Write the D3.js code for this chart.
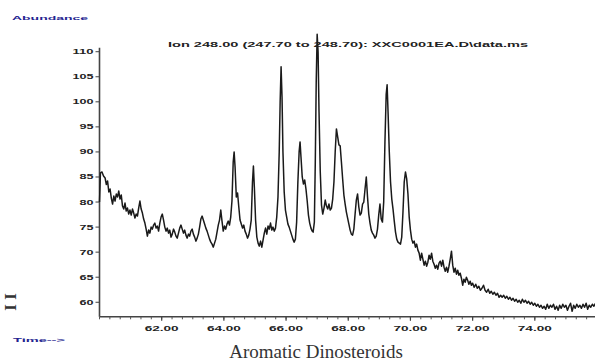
<!DOCTYPE html>
<html>
<head>
<meta charset="utf-8">
<script src="https://cdn.jsdelivr.net/npm/d3@7"></script>
<style>
  html, body { margin: 0; padding: 0; background: #fff; }
  svg { display: block; }
</style>
</head>
<body>
<svg id="chart" width="595" height="364"></svg>
<script>
// Ion chromatogram, m/z 248 — retention time (min) vs abundance
const trace = [
  [60.00,80.0],[60.03,85.8],[60.08,86.0],[60.13,85.2],[60.18,84.8],[60.22,83.5],[60.26,84.2],[60.30,82.0],
  [60.34,82.6],[60.38,80.8],[60.42,79.6],[60.46,81.2],[60.50,80.2],[60.54,81.6],[60.58,81.0],[60.62,82.2],
  [60.66,80.6],[60.70,81.4],[60.74,79.2],[60.78,78.6],[60.82,79.8],[60.86,78.2],[60.90,78.8],[60.94,77.6],
  [60.98,78.4],[61.02,77.4],[61.06,78.6],[61.10,77.8],[61.14,76.8],[61.18,77.6],[61.22,77.2],[61.26,78.8],
  [61.30,80.2],[61.34,78.6],[61.38,77.8],[61.42,76.6],[61.46,75.8],[61.50,74.6],[61.54,73.2],[61.58,74.4],
  [61.62,73.8],[61.66,75.0],[61.70,74.6],[61.74,75.4],[61.78,75.8],[61.82,74.8],[61.86,75.2],[61.90,74.2],
  [61.94,75.8],[61.98,77.0],[62.02,77.6],[62.06,76.4],[62.10,75.0],[62.14,74.2],[62.18,74.8],[62.22,73.8],
  [62.26,74.4],[62.30,73.0],[62.34,73.6],[62.38,74.6],[62.42,74.0],[62.46,73.2],[62.50,72.8],[62.54,73.8],
  [62.58,74.8],[62.62,75.4],[62.66,74.6],[62.70,73.8],[62.74,74.4],[62.78,73.4],[62.82,72.8],[62.86,73.6],
  [62.90,73.2],[62.94,74.2],[62.98,74.6],[63.02,73.6],[63.06,73.0],[63.10,72.2],[63.14,72.8],[63.18,73.6],
  [63.22,75.0],[63.26,76.6],[63.30,77.2],[63.34,76.4],[63.38,75.6],[63.42,74.8],[63.46,74.2],[63.50,73.4],
  [63.54,72.6],[63.58,72.0],[63.62,71.6],[63.66,71.0],[63.70,71.8],[63.74,72.6],[63.78,74.0],[63.82,75.4],
  [63.86,76.4],[63.90,78.4],[63.94,76.2],[63.98,74.2],[64.02,75.2],[64.06,74.6],[64.10,75.6],[64.14,76.2],
  [64.18,75.4],[64.22,77.0],[64.26,80.2],[64.30,88.0],[64.33,90.0],[64.36,87.0],[64.40,81.0],[64.44,81.8],
  [64.48,79.0],[64.52,76.4],[64.56,75.6],[64.60,74.8],[64.64,75.4],[64.68,74.2],[64.72,73.6],[64.76,72.8],
  [64.80,73.4],[64.84,74.6],[64.88,76.4],[64.92,84.0],[64.95,87.2],[64.98,83.0],[65.02,76.4],[65.06,73.0],
  [65.10,71.8],[65.14,71.2],[65.18,72.2],[65.22,71.0],[65.26,72.4],[65.30,73.8],[65.34,74.8],[65.38,73.6],
  [65.42,75.2],[65.46,74.6],[65.50,75.8],[65.54,74.4],[65.58,75.0],[65.62,74.2],[65.66,74.8],[65.70,77.0],
  [65.74,81.0],[65.78,90.0],[65.81,100.0],[65.84,107.0],[65.87,101.0],[65.90,90.0],[65.94,82.0],[65.98,78.4],
  [66.02,77.0],[66.06,75.6],[66.10,75.0],[66.14,74.2],[66.18,73.4],[66.22,72.6],[66.26,72.0],[66.30,72.6],
  [66.34,76.0],[66.38,84.0],[66.42,90.0],[66.45,92.0],[66.48,89.0],[66.52,85.0],[66.56,83.6],[66.60,84.4],
  [66.64,82.6],[66.68,80.2],[66.72,77.4],[66.76,75.8],[66.80,74.8],[66.84,74.2],[66.87,74.0],[66.91,76.0],
  [66.94,88.0],[66.97,104.0],[67.00,113.5],[67.03,110.0],[67.06,98.0],[67.10,86.0],[67.14,79.4],[67.18,77.6],
  [67.22,78.8],[67.26,80.4],[67.30,79.2],[67.34,78.6],[67.38,79.6],[67.42,78.4],[67.46,78.8],[67.50,80.6],
  [67.54,84.0],[67.58,90.0],[67.62,94.6],[67.66,93.0],[67.70,91.4],[67.74,91.2],[67.78,88.0],[67.82,84.6],
  [67.86,81.4],[67.90,79.6],[67.94,78.0],[67.98,76.8],[68.02,75.6],[68.06,74.4],[68.10,73.6],[68.14,73.4],
  [68.18,74.6],[68.22,77.6],[68.26,80.4],[68.30,81.6],[68.34,79.0],[68.38,77.4],[68.42,77.8],[68.46,79.6],
  [68.50,80.0],[68.54,82.6],[68.58,85.0],[68.62,81.0],[68.66,77.6],[68.70,75.8],[68.74,74.4],[68.78,73.8],
  [68.82,73.4],[68.86,72.8],[68.90,73.2],[68.94,74.6],[68.98,77.4],[69.02,79.6],[69.06,76.6],[69.10,76.0],
  [69.14,80.0],[69.18,92.0],[69.22,101.5],[69.25,103.4],[69.28,98.0],[69.32,90.0],[69.36,84.0],[69.40,80.6],
  [69.44,78.6],[69.48,76.2],[69.52,74.0],[69.56,72.6],[69.60,72.0],[69.64,71.8],[69.68,71.6],[69.72,73.0],
  [69.76,78.0],[69.80,84.0],[69.84,86.0],[69.88,84.6],[69.92,81.6],[69.96,77.0],[70.00,74.4],[70.04,72.6],
  [70.08,71.8],[70.12,72.2],[70.16,71.0],[70.20,71.6],[70.24,70.4],[70.28,69.8],[70.32,68.4],[70.36,69.8],
  [70.40,68.6],[70.44,67.4],[70.48,68.2],[70.52,67.2],[70.56,68.0],[70.60,69.4],[70.64,68.6],[70.68,69.8],
  [70.72,68.2],[70.76,67.6],[70.80,66.8],[70.84,67.4],[70.88,66.6],[70.92,67.8],[70.96,68.2],[71.00,67.2],
  [71.04,68.4],[71.08,67.0],[71.12,66.2],[71.16,67.0],[71.20,66.0],[71.24,67.2],[71.28,68.6],[71.32,70.2],
  [71.36,67.4],[71.40,66.0],[71.44,66.8],[71.48,65.6],[71.52,66.4],[71.56,65.4],[71.60,65.8],[71.64,64.8],
  [71.68,63.4],[71.72,64.6],[71.76,64.0],[71.80,65.0],[71.84,64.4],[71.88,63.6],[71.92,64.2],[71.96,63.4],
  [72.00,63.8],[72.05,63.0],[72.10,63.6],[72.15,62.8],[72.20,63.2],[72.25,62.4],[72.30,62.8],[72.35,63.4],
  [72.40,62.4],[72.45,62.0],[72.50,62.6],[72.55,61.8],[72.60,62.2],[72.65,61.6],[72.70,62.0],[72.75,61.4],
  [72.80,61.8],[72.85,61.0],[72.90,61.4],[72.95,61.0],[73.00,61.4],[73.05,60.8],[73.10,61.2],[73.15,60.6],
  [73.20,61.0],[73.25,60.4],[73.30,60.8],[73.35,60.2],[73.40,60.6],[73.45,60.0],[73.50,60.4],[73.55,59.8],
  [73.60,60.6],[73.65,60.0],[73.70,60.4],[73.75,59.8],[73.80,60.2],[73.85,59.6],[73.90,60.0],[73.95,59.4],
  [74.00,59.8],[74.05,59.2],[74.10,59.6],[74.15,59.0],[74.20,59.4],[74.25,58.8],[74.30,59.2],[74.35,58.6],
  [74.40,59.6],[74.45,58.8],[74.50,59.4],[74.55,59.0],[74.60,59.6],[74.65,58.6],[74.70,59.2],[74.75,58.4],
  [74.80,59.4],[74.85,58.8],[74.90,59.6],[74.95,59.0],[75.00,59.4],[75.05,58.4],[75.10,59.2],[75.15,59.8],
  [75.20,58.2],[75.25,59.4],[75.30,58.8],[75.35,59.6],[75.40,59.0],[75.45,59.4],[75.50,58.8],[75.55,59.6],
  [75.60,59.0],[75.65,59.8],[75.70,58.6],[75.75,59.4],[75.80,59.0],[75.85,59.6],[75.90,59.2],[75.95,59.8]
];

const xTickValues = [62, 64, 66, 68, 70, 72, 74];
const yTickValues = [60, 65, 70, 75, 80, 85, 90, 95, 100, 105, 110];
const titleText = "Ion 248.00 (247.70 to 248.70): XXC0001EA.D\\data.ms";
const yAxisTitle = "Abundance";
const xAxisTitle = "Time-->";
const caption = "Aromatic Dinosteroids";

const svg = d3.select("#chart");
svg.append("rect").attr("width", 595).attr("height", 364).attr("fill", "#fff");

const x = d3.scaleLinear().domain([60, 76]).range([99.5, 597]);
const y = d3.scaleLinear().domain([57.1, 110.8]).range([316.8, 47.7]);

const inkFont = "'Liberation Sans', Arial, sans-serif";

// x axis: major ticks every 2 min, minor ticks every 1/3 min
const minorTicks = d3.range(60, 76.01, 1 / 3);
const xAxisG = svg.append("g");
xAxisG.append("line")
  .attr("x1", x(60)).attr("x2", 595)
  .attr("y1", y(57.1)).attr("y2", y(57.1))
  .attr("stroke", "#444").attr("stroke-width", 1.6);
xAxisG.selectAll("line.minor").data(minorTicks).join("line")
  .attr("class", "minor")
  .attr("x1", d => x(d)).attr("x2", d => x(d))
  .attr("y1", y(57.1)).attr("y2", y(57.1) + 2.5)
  .attr("stroke", "#555").attr("stroke-width", 1);
xAxisG.selectAll("line.major").data(xTickValues).join("line")
  .attr("class", "major")
  .attr("x1", d => x(d)).attr("x2", d => x(d))
  .attr("y1", y(57.1)).attr("y2", y(57.1) + 4)
  .attr("stroke", "#444").attr("stroke-width", 1.2);
xAxisG.selectAll("text").data(xTickValues).join("text")
  .attr("x", d => x(d)).attr("y", 331)
  .attr("text-anchor", "middle")
  .attr("font-family", inkFont).attr("font-weight", "bold").attr("font-size", 7)
  .attr("textLength", 34).attr("lengthAdjust", "spacingAndGlyphs")
  .attr("fill", "#222")
  .text(d => d.toFixed(2));

// y axis
const yAxisG = svg.append("g");
yAxisG.append("line")
  .attr("x1", x(60)).attr("x2", x(60))
  .attr("y1", y(110.8)).attr("y2", y(57.1))
  .attr("stroke", "#444").attr("stroke-width", 1.6);
yAxisG.selectAll("line.tick").data(yTickValues).join("line")
  .attr("class", "tick")
  .attr("x1", x(60) - 4).attr("x2", x(60))
  .attr("y1", d => y(d)).attr("y2", d => y(d))
  .attr("stroke", "#444").attr("stroke-width", 1);
yAxisG.selectAll("text").data(yTickValues).join("text")
  .attr("x", 93.5).attr("y", d => y(d) + 2.5)
  .attr("text-anchor", "end")
  .attr("font-family", inkFont).attr("font-weight", "bold").attr("font-size", 7)
  .attr("textLength", d => String(d).length * 7).attr("lengthAdjust", "spacingAndGlyphs")
  .attr("fill", "#222")
  .text(d => d);

// chromatogram trace
const line = d3.line().x(d => x(d[0])).y(d => y(d[1]));
svg.append("path")
  .datum(trace)
  .attr("d", line)
  .attr("fill", "none")
  .attr("stroke", "#1a1a1a")
  .attr("stroke-width", 1.5)
  .attr("stroke-linejoin", "round");

// header and axis captions
svg.append("text")
  .attr("x", 168).attr("y", 47)
  .attr("font-family", inkFont).attr("font-weight", "bold").attr("font-size", 7)
  .attr("textLength", 360).attr("lengthAdjust", "spacingAndGlyphs")
  .attr("fill", "#222")
  .text(titleText);

svg.append("text")
  .attr("x", 12).attr("y", 19.5)
  .attr("font-family", inkFont).attr("font-weight", "bold").attr("font-size", 6)
  .attr("textLength", 76).attr("lengthAdjust", "spacingAndGlyphs")
  .attr("fill", "#23238f")
  .text(yAxisTitle);

svg.append("text")
  .attr("x", 13).attr("y", 342)
  .attr("font-family", inkFont).attr("font-weight", "bold").attr("font-size", 6)
  .attr("textLength", 52).attr("lengthAdjust", "spacingAndGlyphs")
  .attr("fill", "#23238f")
  .text(xAxisTitle);

svg.append("text")
  .attr("x", 316).attr("y", 358)
  .attr("text-anchor", "middle")
  .attr("font-family", "'Liberation Serif', 'Times New Roman', serif")
  .attr("font-size", 19)
  .attr("fill", "#333")
  .text(caption);

// panel mark at the left margin
svg.append("text")
  .attr("transform", "translate(16,302) rotate(-90)")
  .attr("text-anchor", "middle")
  .attr("font-family", "'Liberation Serif', 'Times New Roman', serif")
  .attr("font-weight", "bold")
  .attr("font-size", 17)
  .attr("fill", "#333")
  .text("I I");
</script>
</body>
</html>
